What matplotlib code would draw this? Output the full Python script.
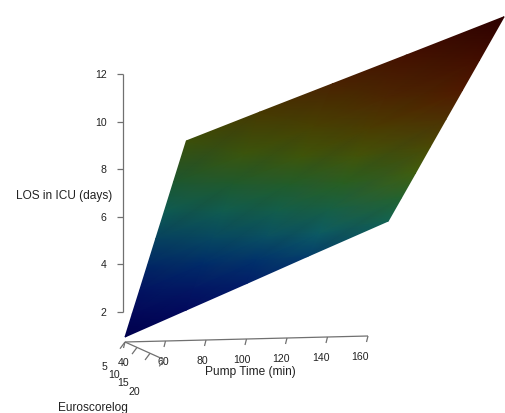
import numpy as np
import matplotlib
matplotlib.use("Agg")
import matplotlib.pyplot as plt
from matplotlib.colors import LinearSegmentedColormap, Normalize

# ---------------- data ----------------
pump_ticks = [40, 60, 80, 100, 120, 140, 160]
euro_ticks = [5, 10, 15, 20]
los_ticks = [2, 4, 6, 8, 10, 12]

# fitted LOS surface (rows: pump time, cols: euroscorelog)
surf_pump = [40, 70, 100, 130, 170]
surf_euro = [5, 8, 11, 14, 17, 20, 23, 27]
surf_los = [[0.95, 2.01, 3.06, 4.12, 5.18, 6.23, 7.29, 8.70],
            [2.01, 3.05, 4.09, 5.13, 6.17, 7.21, 8.25, 9.64],
            [3.07, 4.10, 5.12, 6.14, 7.16, 8.18, 9.21, 10.57],
            [4.14, 5.14, 6.15, 7.15, 8.16, 9.16, 10.16, 11.50],
            [5.55, 6.53, 7.51, 8.50, 9.48, 10.46, 11.44, 12.75]]

x_label = "Pump Time (min)"
y_label = "Euroscorelog"
z_label = "LOS in ICU (days)"

# ---------------- projection / layout ----------------
W, H = 505, 414
ORIGIN = (125.0, 343.0)
P_DIR = (2.025, -0.05)
E_DIR = (2.31, 1.04)
Z_DIR = (0.0, -23.8)
P0, E0, Z0 = 40.0, 5.0, 0.74
PERSP = -0.0078


def proj(p, e, z):
    p = np.asarray(p, float)
    e = np.asarray(e, float)
    z = np.asarray(z, float)
    d = 1 + PERSP * (e - E0)
    x = ORIGIN[0] + (P_DIR[0] * (p - P0) + E_DIR[0] * (e - E0) + Z_DIR[0] * (z - Z0)) / d
    y = ORIGIN[1] + (P_DIR[1] * (p - P0) + E_DIR[1] * (e - E0) + Z_DIR[1] * (z - Z0)) / d
    return x, y


# colormap (dark jet-like, with a lighting shift along pump time)
vmin, vmax = 0.45, 13.3
cstops = [(0.45, (0, 0, 88)), (2.2, (5, 14, 108)), (3.9, (0, 50, 116)),
          (5.6, (15, 103, 100)), (6.1, (20, 100, 80)), (7.3, (40, 99, 37)),
          (7.7, (60, 100, 20)), (8.2, (68, 90, 10)), (8.9, (74, 77, 5)),
          (9.3, (78, 64, 0)), (9.7, (77, 56, 4)), (11.1, (80, 22, 0)),
          (13.3, (45, 0, 0))]
cmap = LinearSegmentedColormap.from_list(
    "los", [((v - vmin) / (vmax - vmin), tuple(c / 255 for c in rgb)) for v, rgb in cstops])
norm = Normalize(vmin, vmax)

fig = plt.figure(figsize=(W / 100, H / 100), dpi=100)
ax = fig.add_axes([0, 0, 1, 1])

# ---------------- surface ----------------
PP, EE = np.meshgrid(surf_pump, surf_euro, indexing="ij")
LL = np.array(surf_los, float)
X, Y = proj(PP, EE, LL)
s = (PP - PP.min()) / (PP.max() - PP.min())
eff = LL + (s - 0.5)
shade = 0.88 + 0.12 * s
rgb = cmap(norm(eff))[..., :3] * shade[..., None]
ax.pcolormesh(X, Y, np.clip(rgb, 0, 1), shading="gouraud", zorder=2)

line_kw = dict(color="#707070", lw=0.9, solid_capstyle="butt", zorder=3)
txt_kw = dict(color="#222222", family="Liberation Sans")
TICK_FS = 7.6
LAB_FS = 8.6

# ---------------- LOS axis ----------------
zx, _ = proj(P0, E0, 2)
zx = float(zx) - 2.5
_, zy = proj([P0, P0], [E0, E0], [los_ticks[0], los_ticks[-1]])
ax.plot([zx, zx], zy, **line_kw)
for t in los_ticks:
    _, ty = proj(P0, E0, t)
    ax.plot([zx - 6, zx], [ty, ty], **line_kw)
    ax.text(zx - 16, ty, str(t), ha="right", va="center", fontsize=TICK_FS, **txt_kw)
_, ly = proj(P0, E0, 6.9)
ax.text(zx - 10, ly, z_label, ha="right", va="center", fontsize=LAB_FS, **txt_kw)

# ---------------- Pump axis ----------------
px, py = proj([pump_ticks[0], pump_ticks[-1]], [E0, E0], [Z0, Z0])
ax.plot(px, py, **line_kw)
for t in pump_ticks:
    tx, ty = proj(t, E0, Z0)
    ax.plot([tx, tx - 1.5], [ty, ty + 6], **line_kw)
    ax.text(tx - 1 - 0.06 * (t - pump_ticks[0]), ty + 20, str(t), ha="center", va="center",
            fontsize=TICK_FS, **txt_kw)
mx, my = proj(100, E0, Z0)
ax.text(mx + 4, my + 32, x_label, ha="center", va="center", fontsize=LAB_FS, **txt_kw)

# ---------------- Euro axis ----------------
ex, ey = proj([P0, P0], [euro_ticks[0], euro_ticks[-1]], [Z0, Z0])
ax.plot(ex, ey, **line_kw)
for t in euro_ticks:
    tx, ty = proj(P0, t, Z0)
    ax.plot([tx, tx - 5], [ty, ty + 6.7], **line_kw)
    k = t - euro_ticks[0]
    ax.text(tx - 20 - 0.65 * k, ty + 24 + 0.48 * k, str(t), ha="center", va="center",
            fontsize=TICK_FS, **txt_kw)
ax.text(93, 408, y_label, ha="center", va="center", fontsize=LAB_FS, **txt_kw)

ax.set_xlim(0, W)
ax.set_ylim(H, 0)
ax.axis("off")
fig.savefig("out.png", dpi=100)
